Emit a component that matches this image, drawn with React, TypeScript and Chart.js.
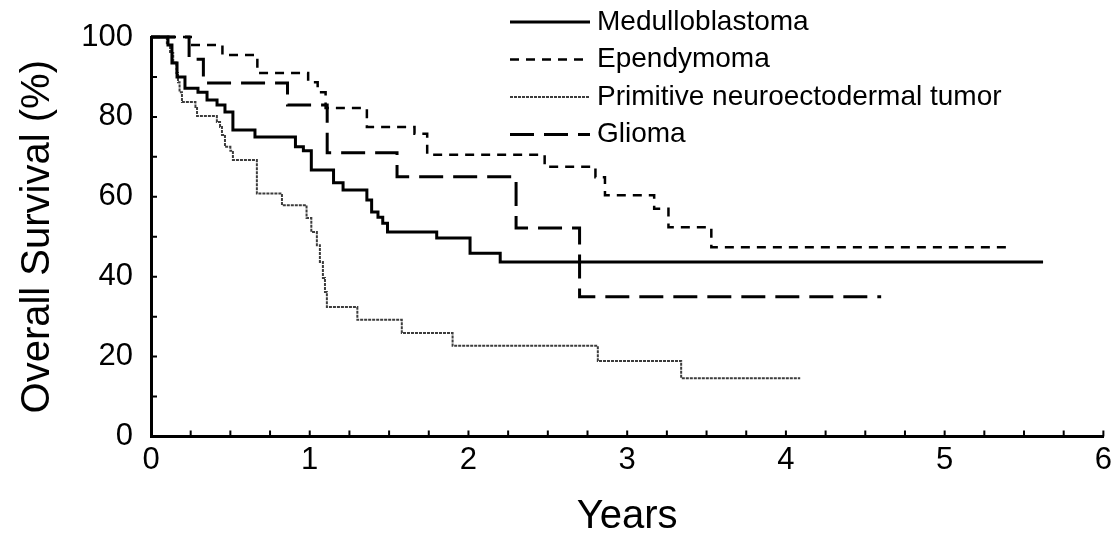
import React, { useEffect, useRef } from 'react';
import { Chart, registerables } from 'chart.js';

Chart.register(...registerables);

// ---- Data ----
const seriesNames = [
  'Medulloblastoma',
  'Ependymoma',
  'Primitive neuroectodermal tumor',
  'Glioma',
];

const medTimes = [0, 0.107, 0.132, 0.164, 0.214, 0.296, 0.353, 0.416, 0.466, 0.516, 0.655, 0.91, 0.96, 1.01, 1.15, 1.21, 1.36, 1.39, 1.43, 1.46, 1.49, 1.80, 2.01, 2.20, 5.62];
const medSurv = [100, 98, 93.5, 90, 87.2, 86.2, 84.2, 83.0, 81.2, 76.7, 75.0, 72.5, 71.5, 66.7, 63.5, 61.7, 59.2, 56.2, 54.9, 53.4, 51.2, 49.7, 45.9, 43.7, 43.7];

const epeTimes = [0, 0.26, 0.45, 0.67, 0.99, 1.05, 1.10, 1.36, 1.66, 1.74, 2.48, 2.80, 2.86, 3.17, 3.26, 3.53, 5.40];
const epeSurv = [100, 98, 95.5, 91, 88.7, 86.2, 82.2, 77.5, 75.8, 70.5, 67.5, 64.9, 60.4, 57.0, 52.4, 47.4, 47.4];

const pnetTimes = [0, 0.10, 0.12, 0.14, 0.16, 0.17, 0.18, 0.195, 0.28, 0.29, 0.415, 0.435, 0.447, 0.466, 0.50, 0.516, 0.667, 0.825, 0.98, 1.01, 1.045, 1.064, 1.083, 1.096, 1.108, 1.30, 1.58, 1.90, 2.815, 3.34, 4.09];
const pnetSurv = [100, 98, 96, 93.6, 91, 88.7, 86.2, 83.7, 82.5, 80.2, 78.7, 77.5, 75.5, 72.5, 71.5, 69.2, 60.8, 57.9, 54.7, 51.2, 47.9, 43.7, 39.7, 36.2, 32.4, 29.2, 25.9, 22.7, 18.9, 14.6, 14.6];

const gliTimes = [0, 0.24, 0.33, 0.86, 1.11, 1.55, 2.30, 2.70, 4.60];
const gliSurv = [100, 94.4, 88.5, 83.0, 71.0, 65.0, 52.2, 35.0, 35.0];

const xTitle = 'Years';
const yTitle = 'Overall Survival (%)';

const FONT = "'Liberation Sans', Arial, Helvetica, sans-serif";

const toPoints = (ts: number[], ss: number[]) => ts.map((t, i) => ({ x: t, y: ss[i] }));

const inwardTicks = {
  id: 'inwardTicks',
  afterDraw(chart: any) {
    const { ctx, chartArea } = chart;
    const xs = chart.scales.x;
    const ys = chart.scales.y;
    ctx.save();
    ctx.strokeStyle = '#000';
    ctx.lineWidth = 2;
    ctx.setLineDash([]);
    ctx.beginPath();
    xs.ticks.forEach((t: any) => {
      const px = xs.getPixelForValue(t.value);
      ctx.moveTo(px, chartArea.bottom);
      ctx.lineTo(px, chartArea.bottom - 6);
    });
    ys.ticks.forEach((t: any) => {
      const py = ys.getPixelForValue(t.value);
      ctx.moveTo(chartArea.left, py);
      ctx.lineTo(chartArea.left + 6, py);
    });
    ctx.stroke();
    ctx.restore();
  },
};

const sideLegend = {
  id: 'sideLegend',
  afterDraw(chart: any, _args: any, opts: any) {
    const ctx = chart.ctx;
    chart.data.datasets.forEach((ds: any, i: number) => {
      const y = opts.y0 + i * opts.rowGap;
      ctx.save();
      ctx.strokeStyle = ds.borderColor;
      ctx.lineWidth = ds.borderWidth;
      ctx.lineCap = 'butt';
      ctx.setLineDash(ds.borderDash || []);
      ctx.beginPath();
      ctx.moveTo(opts.x0, y);
      ctx.lineTo(opts.x1, y);
      ctx.stroke();
      ctx.setLineDash([]);
      ctx.fillStyle = '#000';
      ctx.font = opts.font;
      ctx.textAlign = 'left';
      ctx.textBaseline = 'middle';
      ctx.fillText(ds.label, opts.textX, y);
      ctx.restore();
    });
  },
};

export default function App() {
  const ref = useRef<HTMLCanvasElement | null>(null);

  useEffect(() => {
    document.body.style.margin = '0';
    const canvas = ref.current;
    if (!canvas) return;
    const chart = new Chart(canvas, {
      type: 'line',
      data: {
        datasets: [
          {
            label: seriesNames[0],
            data: toPoints(medTimes, medSurv),
            borderColor: '#000',
            borderWidth: 3,
            borderDash: [],
          },
          {
            label: seriesNames[1],
            data: toPoints(epeTimes, epeSurv),
            borderColor: '#000',
            borderWidth: 2.5,
            borderDash: [9, 7],
          },
          {
            label: seriesNames[2],
            data: toPoints(pnetTimes, pnetSurv),
            borderColor: '#3c3c3c',
            borderWidth: 2,
            borderDash: [3, 1],
          },
          {
            label: seriesNames[3],
            data: toPoints(gliTimes, gliSurv),
            borderColor: '#000',
            borderWidth: 3,
            borderDash: [24, 10],
          },
        ].map((d) => ({
          ...d,
          stepped: true as any,
          pointRadius: 0,
          fill: false,
          tension: 0,
          clip: false as any,
          borderCapStyle: 'butt' as any,
        })),
      },
      options: {
        responsive: false,
        animation: false,
        layout: { padding: { top: 37, right: 13, left: 0, bottom: 0 } },
        plugins: {
          legend: { display: false },
          tooltip: { enabled: false },
          sideLegend: {
            x0: 510,
            x1: 590,
            textX: 597,
            y0: 22,
            rowGap: 37.5,
            font: `28px ${FONT}`,
          },
        } as any,
        scales: {
          x: {
            type: 'linear',
            min: 0,
            max: 6,
            grid: { display: false, drawTicks: false },
            border: { display: true, color: '#000', width: 3 },
            ticks: {
              stepSize: 0.25,
              autoSkip: false,
              maxRotation: 0,
              padding: 5,
              color: '#000',
              font: { family: FONT, size: 31 },
              callback: (v: any) => (Math.abs(v - Math.round(v)) < 1e-9 ? String(Math.round(v)) : ''),
            },
            title: {
              display: true,
              text: xTitle,
              color: '#000',
              font: { family: FONT, size: 40 },
              padding: { top: 0, bottom: 0 },
            },
            afterFit: (s: any) => {
              s.height = 104.5;
            },
          },
          y: {
            min: 0,
            max: 100,
            grid: { display: false, drawTicks: false },
            border: { display: true, color: '#000', width: 3 },
            ticks: {
              stepSize: 10,
              autoSkip: false,
              padding: 18,
              color: '#000',
              font: { family: FONT, size: 31 },
              callback: (v: any) => (Math.round(v) % 20 === 0 ? String(Math.round(v)) : ''),
            },
            title: {
              display: true,
              text: yTitle,
              color: '#000',
              font: { family: FONT, size: 40 },
              padding: { top: 14, bottom: 0 },
            },
            afterFit: (s: any) => {
              s.width = 151;
            },
          },
        },
      },
      plugins: [inwardTicks, sideLegend],
    });
    return () => chart.destroy();
  }, []);

  return (
    <div style={{ width: 1117, height: 541, background: '#fff' }}>
      <canvas ref={ref} width={1117} height={541} />
    </div>
  );
}
